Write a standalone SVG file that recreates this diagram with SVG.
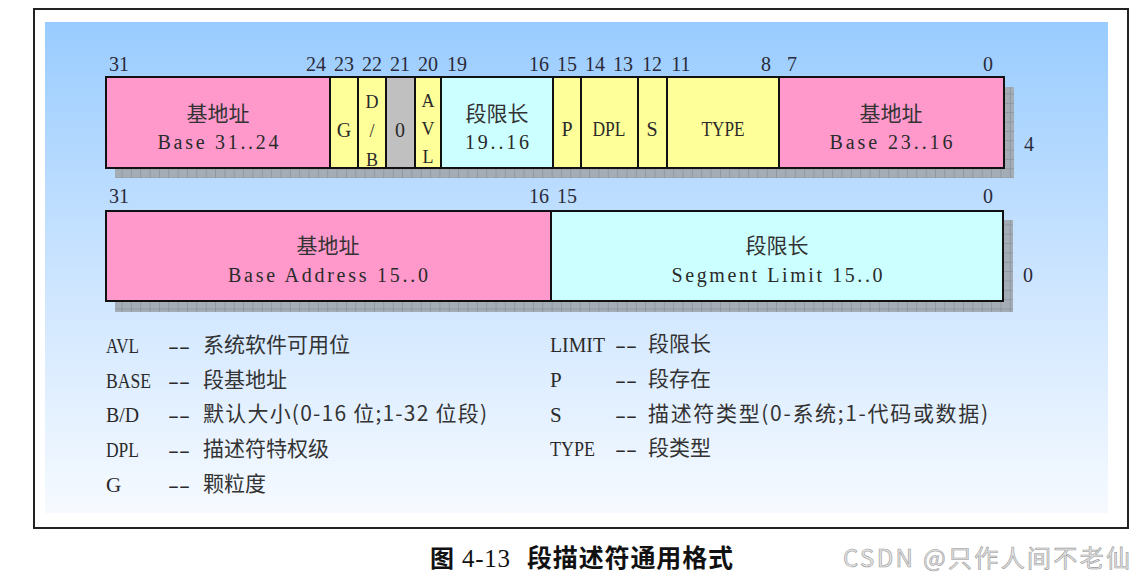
<svg xmlns="http://www.w3.org/2000/svg" width="1144" height="583" viewBox="0 0 1144 583">
<defs>
<linearGradient id="bg" x1="0" y1="0" x2="0" y2="1">
<stop offset="0" stop-color="#99ccff"/>
<stop offset="0.55" stop-color="#cfe6ff"/>
<stop offset="1" stop-color="#f6faff"/>
</linearGradient>
<pattern id="grid" width="9.35" height="9.35" patternUnits="userSpaceOnUse">
<rect width="9.35" height="9.35" fill="#a4acb5"/>
<path d="M0 0.4H9.35M0.4 0V9.35" stroke="#8b939c" stroke-width="0.9" fill="none"/>
</pattern>
</defs>
<style>
.box{stroke:#111;stroke-width:2}
.pink{fill:#ff99cc}
.yel{fill:#ffff99}
.cyan{fill:#ccffff}
.grey{fill:#c0c0c0}
.num{font-family:"Liberation Serif",serif;font-size:20px;fill:#2a2a3a;text-anchor:middle}
.lat{font-family:"Liberation Serif",serif;font-size:20px;fill:#2a2a2a;text-anchor:middle}
.sm{font-family:"Liberation Serif",serif;font-size:18px;fill:#2a2a2a;text-anchor:middle}
.cjk{font-family:"Noto Sans CJK SC",sans-serif;font-size:21px;fill:#333;text-anchor:middle}
.leg{font-family:"Liberation Serif",serif;font-size:21px;fill:#2a2a2a}
.legc{font-family:"Noto Sans CJK SC",sans-serif;font-size:21px;fill:#333}
</style>
<rect x="34" y="9" width="1094" height="519" fill="#fff" stroke="#222" stroke-width="2"/>
<rect x="45" y="22" width="1063" height="491" fill="url(#bg)"/>

<g id="shadows">
<rect x="115" y="87" width="899" height="91" fill="url(#grid)"/>
<rect x="115" y="220" width="898" height="92" fill="url(#grid)"/>
</g>

<g id="bits-top">
<text class="num" x="119" y="71">31</text>
<text class="num" x="316" y="71">24</text>
<text class="num" x="344" y="71">23</text>
<text class="num" x="372" y="71">22</text>
<text class="num" x="400" y="71">21</text>
<text class="num" x="428" y="71">20</text>
<text class="num" x="457" y="71">19</text>
<text class="num" x="539" y="71">16</text>
<text class="num" x="567" y="71">15</text>
<text class="num" x="595" y="71">14</text>
<text class="num" x="623" y="71">13</text>
<text class="num" x="652" y="71">12</text>
<text class="num" x="681" y="71">11</text>
<text class="num" x="766" y="71">8</text>
<text class="num" x="792" y="71">7</text>
<text class="num" x="988" y="71">0</text>
<text class="num" x="1029" y="151">4</text>
</g>

<g id="base-31-24">
<rect class="box pink" x="106" y="77" width="224" height="91"/>
<text class="cjk" x="218" y="121">基地址</text>
<text class="lat" x="218" y="149" textLength="121" lengthAdjust="spacing">Base 31..24</text>
</g>
<g id="g-bit">
<rect class="box yel" x="330" y="77" width="28" height="91"/>
<text class="lat" x="344" y="137">G</text>
</g>
<g id="db-bit">
<rect class="box yel" x="358" y="77" width="28" height="91"/>
<text class="sm" x="372" y="108">D</text>
<text class="sm" x="372" y="137">/</text>
<text class="sm" x="372" y="166">B</text>
</g>
<g id="zero-bit">
<rect class="box grey" x="386" y="77" width="29" height="91"/>
<text class="lat" x="400" y="137">0</text>
</g>
<g id="avl-bit">
<rect class="box yel" x="415" y="77" width="26" height="91"/>
<text class="sm" x="428" y="107">A</text>
<text class="sm" x="428" y="135">V</text>
<text class="sm" x="428" y="163">L</text>
</g>
<g id="limit-19-16">
<rect class="box cyan" x="441" y="77" width="112" height="91"/>
<text class="cjk" x="497" y="121">段限长</text>
<text class="lat" x="497" y="149" textLength="64" lengthAdjust="spacing">19..16</text>
</g>
<g id="p-bit">
<rect class="box yel" x="553" y="77" width="28" height="91"/>
<text class="lat" x="567" y="136">P</text>
</g>
<g id="dpl">
<rect class="box yel" x="581" y="77" width="57" height="91"/>
<text class="lat" x="609" y="136" textLength="33" lengthAdjust="spacingAndGlyphs">DPL</text>
</g>
<g id="s-bit">
<rect class="box yel" x="638" y="77" width="29" height="91"/>
<text class="lat" x="652" y="136">S</text>
</g>
<g id="type">
<rect class="box yel" x="667" y="77" width="112" height="91"/>
<text class="lat" x="723" y="136" textLength="43" lengthAdjust="spacingAndGlyphs">TYPE</text>
</g>
<g id="base-23-16">
<rect class="box pink" x="779" y="77" width="225" height="91"/>
<text class="cjk" x="891" y="121">基地址</text>
<text class="lat" x="891" y="149" textLength="123" lengthAdjust="spacing">Base 23..16</text>
</g>

<g id="bits-bottom">
<text class="num" x="119" y="203">31</text>
<text class="num" x="539" y="203">16</text>
<text class="num" x="567" y="203">15</text>
<text class="num" x="988" y="203">0</text>
<text class="num" x="1028" y="282">0</text>
</g>
<g id="base-15-0">
<rect class="box pink" x="106" y="211" width="445" height="90"/>
<text class="cjk" x="328" y="253">基地址</text>
<text class="lat" x="328" y="282" textLength="200" lengthAdjust="spacing">Base Address 15..0</text>
</g>
<g id="limit-15-0">
<rect class="box cyan" x="551" y="211" width="452" height="90"/>
<text class="cjk" x="777" y="253">段限长</text>
<text class="lat" x="777" y="282" textLength="211" lengthAdjust="spacing">Segment Limit 15..0</text>
</g>

<g id="legend-left">
<text class="leg" x="106" y="353" textLength="33" lengthAdjust="spacingAndGlyphs">AVL</text>
<text class="leg" x="168" y="353" textLength="22" lengthAdjust="spacingAndGlyphs">--</text>
<text class="legc" x="203" y="352">系统软件可用位</text>
<text class="leg" x="106" y="388" textLength="45" lengthAdjust="spacingAndGlyphs">BASE</text>
<text class="leg" x="168" y="388" textLength="22" lengthAdjust="spacingAndGlyphs">--</text>
<text class="legc" x="203" y="387">段基地址</text>
<text class="leg" x="106" y="422" textLength="33" lengthAdjust="spacingAndGlyphs">B/D</text>
<text class="leg" x="168" y="422" textLength="22" lengthAdjust="spacingAndGlyphs">--</text>
<text class="legc" x="203" y="421" textLength="284" lengthAdjust="spacing">默认大小(0-16 位;1-32 位段)</text>
<text class="leg" x="106" y="457" textLength="33" lengthAdjust="spacingAndGlyphs">DPL</text>
<text class="leg" x="168" y="457" textLength="22" lengthAdjust="spacingAndGlyphs">--</text>
<text class="legc" x="203" y="456">描述符特权级</text>
<text class="leg" x="106" y="492">G</text>
<text class="leg" x="168" y="492" textLength="22" lengthAdjust="spacingAndGlyphs">--</text>
<text class="legc" x="203" y="491">颗粒度</text>
</g>
<g id="legend-right">
<text class="leg" x="550" y="352" textLength="55" lengthAdjust="spacingAndGlyphs">LIMIT</text>
<text class="leg" x="615" y="352" textLength="22" lengthAdjust="spacingAndGlyphs">--</text>
<text class="legc" x="648" y="351">段限长</text>
<text class="leg" x="550" y="387">P</text>
<text class="leg" x="615" y="387" textLength="22" lengthAdjust="spacingAndGlyphs">--</text>
<text class="legc" x="648" y="386">段存在</text>
<text class="leg" x="550" y="422">S</text>
<text class="leg" x="615" y="422" textLength="22" lengthAdjust="spacingAndGlyphs">--</text>
<text class="legc" x="648" y="421" textLength="340" lengthAdjust="spacing">描述符类型(0-系统;1-代码或数据)</text>
<text class="leg" x="550" y="456" textLength="45" lengthAdjust="spacingAndGlyphs">TYPE</text>
<text class="leg" x="615" y="456" textLength="22" lengthAdjust="spacingAndGlyphs">--</text>
<text class="legc" x="648" y="455">段类型</text>
</g>

<g id="caption">
<text x="430" y="567" font-family="Noto Sans CJK SC, sans-serif" font-size="24" font-weight="bold" fill="#111">图</text>
<text x="462" y="567" font-family="Liberation Serif, serif" font-size="25" fill="#111" textLength="48" lengthAdjust="spacing">4-13</text>
<text x="527" y="567" font-family="Noto Sans CJK SC, sans-serif" font-size="25" font-weight="bold" fill="#111" textLength="206" lengthAdjust="spacing">段描述符通用格式</text>
</g>
<g id="watermark">
<text x="843" y="567" font-family="Noto Sans CJK SC, sans-serif" font-size="24" fill="#e4e4e4" stroke="#9a9a9a" stroke-width="0.6" textLength="287" lengthAdjust="spacing">CSDN @只作人间不老仙</text>
</g>
</svg>
